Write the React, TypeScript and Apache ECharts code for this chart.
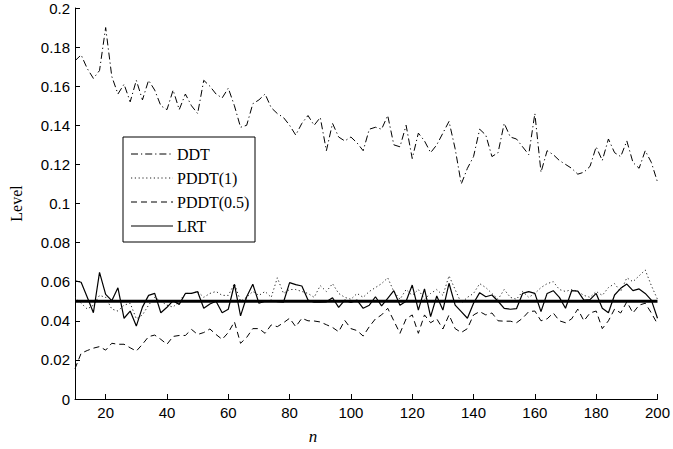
import React, { useEffect, useRef } from "react";
import * as echarts from "echarts";

const nValues = [
  10, 12, 14, 16, 18, 20, 22, 24, 26, 28, 30, 32, 34, 36, 38, 40, 42, 44, 46, 48,
  50, 52, 54, 56, 58, 60, 62, 64, 66, 68, 70, 72, 74, 76, 78, 80, 82, 84, 86, 88,
  90, 92, 94, 96, 98, 100, 102, 104, 106, 108, 110, 112, 114, 116, 118, 120, 122,
  124, 126, 128, 130, 132, 134, 136, 138, 140, 142, 144, 146, 148, 150, 152, 154,
  156, 158, 160, 162, 164, 166, 168, 170, 172, 174, 176, 178, 180, 182, 184, 186,
  188, 190, 192, 194, 196, 198, 200,
];

const ddt = [
  0.173, 0.176, 0.169, 0.164, 0.168, 0.19, 0.165, 0.156, 0.161, 0.152,
  0.163, 0.153, 0.163, 0.158, 0.15, 0.148, 0.158, 0.148, 0.156, 0.15,
  0.146, 0.163, 0.16, 0.156, 0.154, 0.159, 0.15, 0.139, 0.14, 0.151,
  0.153, 0.156, 0.149, 0.146, 0.144, 0.14, 0.135, 0.141, 0.145, 0.14,
  0.144, 0.127, 0.141, 0.134, 0.132, 0.134, 0.131, 0.127, 0.138, 0.139,
  0.138, 0.145, 0.13, 0.129, 0.14, 0.123, 0.136, 0.132, 0.126, 0.13,
  0.136, 0.142, 0.128, 0.11, 0.118, 0.124, 0.138, 0.135, 0.124, 0.126,
  0.141, 0.134, 0.133, 0.129, 0.125, 0.146, 0.116, 0.127, 0.125, 0.122,
  0.12, 0.118, 0.115, 0.116, 0.119, 0.129, 0.122, 0.133, 0.126, 0.124,
  0.132, 0.121, 0.118, 0.127, 0.121, 0.111,
];

const pddt1 = [
  0.052, 0.049, 0.046, 0.048, 0.053, 0.052, 0.046, 0.045, 0.048, 0.049,
  0.041, 0.043, 0.048, 0.052, 0.05, 0.048, 0.047, 0.05, 0.054, 0.054,
  0.055, 0.052, 0.054, 0.055, 0.053, 0.053, 0.059, 0.05, 0.052, 0.055,
  0.053, 0.055, 0.052, 0.062, 0.054, 0.056, 0.056, 0.055, 0.054, 0.052,
  0.058, 0.055, 0.059, 0.054, 0.052, 0.051, 0.054, 0.052, 0.055, 0.057,
  0.059, 0.062, 0.055, 0.051, 0.056, 0.053, 0.056, 0.051, 0.054, 0.056,
  0.053, 0.063, 0.056, 0.049, 0.052, 0.054, 0.059, 0.057, 0.054, 0.051,
  0.056, 0.052, 0.051, 0.055, 0.052, 0.054, 0.057, 0.059, 0.06, 0.056,
  0.055, 0.056, 0.055, 0.053, 0.052, 0.055, 0.053, 0.057, 0.059, 0.055,
  0.062, 0.06, 0.063, 0.066, 0.058, 0.051,
];

const pddt05 = [
  0.0155, 0.0234, 0.0248, 0.026, 0.0268, 0.025, 0.0285, 0.028, 0.028, 0.0262,
  0.0245, 0.028, 0.0319, 0.0327, 0.0305, 0.028, 0.032, 0.0325, 0.0325, 0.0356,
  0.033, 0.034, 0.0358, 0.033, 0.0305, 0.034, 0.0395, 0.0285, 0.0315, 0.036,
  0.036, 0.0336, 0.0379, 0.037, 0.039, 0.0413, 0.037, 0.0413, 0.04, 0.0399,
  0.0394, 0.038, 0.0366, 0.0344, 0.0402, 0.036, 0.035, 0.0322, 0.037, 0.041,
  0.043, 0.0464, 0.04, 0.0336, 0.041, 0.043, 0.0336, 0.043, 0.039, 0.041,
  0.0358, 0.043, 0.036, 0.034, 0.036, 0.043, 0.0447, 0.043, 0.044, 0.04,
  0.0398, 0.0398, 0.039, 0.0413, 0.0447, 0.045, 0.04, 0.041, 0.044, 0.04,
  0.039, 0.041, 0.046, 0.04, 0.044, 0.045, 0.036, 0.04, 0.046, 0.044,
  0.0497, 0.044, 0.048, 0.049, 0.044, 0.0384,
];

const lrt = [
  0.0605, 0.0597, 0.052, 0.0441, 0.0648, 0.0535, 0.0503, 0.0569, 0.0413, 0.045,
  0.0373, 0.047, 0.053, 0.054, 0.0441, 0.0469, 0.0503, 0.0484, 0.054, 0.054,
  0.0549, 0.0464, 0.0486, 0.05, 0.0441, 0.0459, 0.0587, 0.0425, 0.0523, 0.0587,
  0.049, 0.05, 0.0505, 0.0498, 0.0495, 0.0595, 0.0585, 0.0578, 0.0506, 0.0495,
  0.0495, 0.0497, 0.0518, 0.0469, 0.0506, 0.0494, 0.0506, 0.0464, 0.048, 0.0523,
  0.0476, 0.0515, 0.0554, 0.048, 0.05, 0.0583, 0.0455, 0.0563, 0.0421, 0.0527,
  0.0455, 0.0592, 0.048, 0.0447, 0.0413, 0.049, 0.0544, 0.0523, 0.0532, 0.05,
  0.0464, 0.0459, 0.0462, 0.054, 0.0549, 0.054, 0.0447, 0.054, 0.0554, 0.052,
  0.0464, 0.0554, 0.0552, 0.0506, 0.0508, 0.054, 0.0464, 0.0441, 0.0532, 0.0566,
  0.0588, 0.0554, 0.0563, 0.054, 0.0506, 0.0413,
];

const nominalLevel = 0.05;
const seriesNames = ["DDT", "PDDT(1)", "PDDT(0.5)", "LRT"];

const pair = (vals: number[]) => nValues.map((n, i) => [n, vals[i]]);

const SERIF = "'Liberation Serif'";
const SANS = "Liberation Sans";

// dash patterns shared by series and the hand-drawn legend
const dashes: Record<string, number[] | null> = {
  DDT: [7, 3, 1.2, 3],
  "PDDT(1)": [1.2, 2.6],
  "PDDT(0.5)": [6, 4],
  LRT: null,
};
const widths: Record<string, number> = { DDT: 1, "PDDT(1)": 1, "PDDT(0.5)": 1, LRT: 1.2 };
const colors: Record<string, string> = { DDT: "#000", "PDDT(1)": "#222", "PDDT(0.5)": "#000", LRT: "#000" };

export default function App() {
  const ref = useRef<HTMLDivElement>(null);

  useEffect(() => {
    document.body.style.margin = "0";
    if (!ref.current) return;
    const chart = echarts.init(ref.current, null, { renderer: "svg" });

    const legendLeft = 123;
    const legendTop = 137;
    const rowY0 = 154;
    const rowGap = 24;
    const legendGraphics: any[] = [
      {
        type: "rect",
        shape: { x: legendLeft, y: legendTop, width: 132, height: 105 },
        style: { fill: "#fff", stroke: "#000", lineWidth: 1 },
        z: 10,
      },
    ];
    seriesNames.forEach((name, i) => {
      const y = rowY0 + i * rowGap;
      legendGraphics.push({
        type: "line",
        shape: { x1: 131, y1: y, x2: 173, y2: y },
        style: {
          stroke: colors[name],
          lineWidth: widths[name],
          lineDash: dashes[name] || undefined,
        },
        z: 11,
      });
      legendGraphics.push({
        type: "text",
        x: 177,
        y: y,
        style: {
          text: name,
          font: `16px ${SERIF}`,
          fill: "#000",
          align: "left",
          verticalAlign: "middle",
        },
        z: 11,
      });
    });

    const lineSeries = (name: string, vals: number[]) => ({
      type: "line",
      name,
      symbol: "none",
      showSymbol: false,
      silent: true,
      data: pair(vals),
      lineStyle: {
        color: colors[name],
        width: widths[name],
        type: dashes[name] || "solid",
      },
      z: name === "LRT" ? 3 : 2,
    });

    chart.setOption({
      animation: false,
      backgroundColor: "#ffffff",
      grid: { left: 66, right: 11, top: 8, bottom: 50, containLabel: false },
      xAxis: {
        type: "value",
        min: 10,
        max: 200,
        splitNumber: 10,
        axisLine: { show: true, lineStyle: { color: "#000", width: 1 } },
        axisTick: { show: true, inside: true, length: 5, lineStyle: { color: "#000" } },
        axisLabel: {
          showMinLabel: false,
          color: "#000",
          fontFamily: SANS,
          fontSize: 15,
          margin: 6,
        },
        splitLine: { show: false },
      },
      yAxis: {
        type: "value",
        min: 0,
        max: 0.2,
        interval: 0.02,
        name: "Level",
        nameLocation: "middle",
        nameGap: 51,
        nameTextStyle: { fontFamily: "Liberation Serif", fontSize: 16, color: "#000" },
        axisLine: { show: true, lineStyle: { color: "#000", width: 1 } },
        axisTick: { show: true, inside: true, length: 5, lineStyle: { color: "#000" } },
        axisLabel: {
          color: "#000",
          fontFamily: SANS,
          fontSize: 15,
          margin: 5,
          formatter: (v: number) => String(Number(v.toFixed(2))),
        },
        splitLine: { show: false },
      },
      graphic: [
        ...legendGraphics,
        {
          type: "text",
          x: 313,
          y: 436,
          style: {
            text: "n",
            font: `italic 17px ${SERIF}`,
            fill: "#000",
            align: "center",
            verticalAlign: "middle",
          },
        },
      ],
      series: [
        lineSeries("DDT", ddt),
        lineSeries("PDDT(1)", pddt1),
        lineSeries("PDDT(0.5)", pddt05),
        lineSeries("LRT", lrt),
        {
          type: "line",
          name: "nominal",
          symbol: "none",
          showSymbol: false,
          silent: true,
          data: [
            [nValues[0], nominalLevel],
            [nValues[nValues.length - 1], nominalLevel],
          ],
          lineStyle: { color: "#000", width: 3, type: "solid" },
          z: 4,
        },
      ],
    });
    return () => chart.dispose();
  }, []);

  return <div ref={ref} style={{ width: 673, height: 449 }} />;
}
